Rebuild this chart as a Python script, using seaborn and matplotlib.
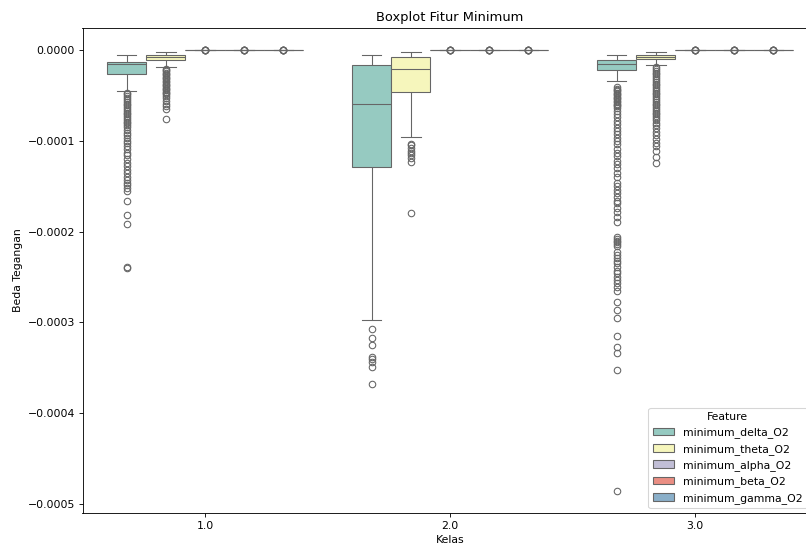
import matplotlib
matplotlib.use("Agg")
import matplotlib.pyplot as plt
import pandas as pd
import seaborn as sns

# Box statistics per feature (rows) and class (columns), in units of 1e-5 V
kelas = [1.0, 2.0, 3.0]
features = ["minimum_delta_O2", "minimum_theta_O2", "minimum_alpha_O2",
            "minimum_beta_O2", "minimum_gamma_O2"]

whisker_low = [[-4.5, -29.7, -3.47],
               [-1.9, -9.57, -1.71],
               [0.0, 0.0, 0.0],
               [0.0, 0.0, 0.0],
               [0.0, 0.0, 0.0]]
quartile_1 = [[-2.6, -12.9, -2.26],
              [-1.12, -4.6, -1.05],
              [0.0, 0.0, 0.0],
              [0.0, 0.0, 0.0],
              [0.0, 0.0, 0.0]]
median = [[-1.6, -5.9, -1.56],
          [-0.79, -2.07, -0.75],
          [0.0, 0.0, 0.0],
          [0.0, 0.0, 0.0],
          [0.0, 0.0, 0.0]]
quartile_3 = [[-1.3, -1.63, -1.16],
              [-0.53, -0.79, -0.53],
              [0.0, 0.0, 0.0],
              [0.0, 0.0, 0.0],
              [0.0, 0.0, 0.0]]
whisker_high = [[-0.61, -0.61, -0.53],
                [-0.28, -0.28, -0.28],
                [0.0, 0.0, 0.0],
                [0.0, 0.0, 0.0],
                [0.0, 0.0, 0.0]]

# Outlying minima (1e-5 V)
delta_out_k1 = [-4.7, -4.9, -5.1, -5.3, -5.5, -5.7, -5.9, -6.1, -6.3, -6.5,
                -6.7, -6.9, -7.1, -7.3, -7.5, -7.7, -7.9, -8.1, -8.3, -8.5,
                -8.8, -9.1, -9.4, -9.7, -10.0, -10.3, -10.6, -10.9, -11.3,
                -11.6, -12.0, -12.4, -12.8, -13.2, -13.6, -14.0, -14.3, -14.6,
                -14.9, -15.2, -15.5, -16.6, -18.2, -19.2, -23.9, -24.0]
delta_out_k2 = [-30.7, -31.7, -32.5, -33.8, -34.0, -34.4, -34.9, -36.8]
delta_out_k3 = [-4.1, -4.25, -4.4, -4.55, -4.7, -4.85, -5.0, -5.15, -5.3,
                -5.45, -5.6, -5.75, -5.9, -6.05, -6.2, -6.4, -6.7, -7.0, -7.4,
                -7.8, -8.2, -8.6, -8.9, -9.3, -9.7, -10.0, -10.4, -10.9, -11.3,
                -11.7, -12.2, -12.6, -13.0, -13.5, -14.0, -14.6, -15.0, -15.4,
                -15.8, -16.2, -16.6, -16.9, -17.4, -17.9, -18.4, -19.0, -20.6,
                -20.8, -21.0, -21.2, -21.4, -21.6, -22.3, -22.6, -22.9, -23.2,
                -23.5, -23.9, -24.3, -24.6, -25.0, -25.3, -25.7, -26.1, -26.5,
                -27.8, -28.6, -29.5, -31.5, -32.7, -33.4, -35.3, -48.6]
theta_out_k1 = [-2.05, -2.2, -2.35, -2.5, -2.65, -2.8, -2.95, -3.1, -3.25,
                -3.4, -3.55, -3.7, -3.85, -4.0, -4.15, -4.3, -4.45, -4.6,
                -4.75, -4.9, -5.05, -5.3, -5.6, -5.9, -6.2, -6.5, -7.6]
theta_out_k2 = [-10.35, -10.5, -10.8, -11.1, -11.3, -11.6, -11.9, -12.3, -18.0]
theta_out_k3 = [-1.9, -2.1, -2.3, -2.5, -2.7, -2.9, -3.1, -3.3, -3.5, -3.7,
                -3.9, -4.1, -4.3, -4.5, -4.7, -4.9, -5.1, -5.3, -5.5, -5.7,
                -5.9, -6.1, -6.3, -6.5, -6.7, -6.9, -7.1, -7.3, -7.5, -7.7,
                -8.0, -8.3, -8.6, -9.0, -9.4, -9.8, -10.2, -10.6, -11.1,
                -11.8, -12.5]
# high-band minima sit almost exactly at zero; a few tiny deviations
small_out = [-0.01, -0.02, -0.03, -0.04, 0.01, 0.02]

outliers = [[delta_out_k1, delta_out_k2, delta_out_k3],
            [theta_out_k1, theta_out_k2, theta_out_k3],
            [small_out, small_out, small_out],
            [small_out, small_out, small_out],
            [small_out, small_out, small_out]]

UNIT = 1e-5


def samples_for(f, k):
    """Observations whose quartiles, whiskers and fliers give the box above."""
    out = outliers[f][k]
    n = len(out) + 1
    vals = (list(out) + [whisker_low[f][k]] + [quartile_1[f][k]] * n
            + [median[f][k]] * n + [quartile_3[f][k]] * n
            + [whisker_high[f][k]])
    return [v * UNIT for v in vals]


rows = []
for f, feat in enumerate(features):
    for k, kl in enumerate(kelas):
        for v in samples_for(f, k):
            rows.append({"Kelas": kl, "Feature": feat, "Beda Tegangan": v})
df = pd.DataFrame(rows)

DPI = 78
fig = plt.figure(figsize=(806 / DPI, 548 / DPI), dpi=DPI)
ax = fig.add_axes([82.5 / 806, 1 - 513.3 / 548, 735 / 806, 485.6 / 548])

sns.boxplot(data=df, x="Kelas", y="Beda Tegangan", hue="Feature",
            hue_order=features, palette="Set3", ax=ax)
sns.move_legend(ax, "lower right", title="Feature",
                bbox_to_anchor=(1 - 5 / 735, 0))

ax.set_title("Boxplot Fitur Minimum")
ax.set_xlabel("Kelas")
ax.set_ylabel("Beda Tegangan")

fig.savefig("out.png", dpi=DPI)
